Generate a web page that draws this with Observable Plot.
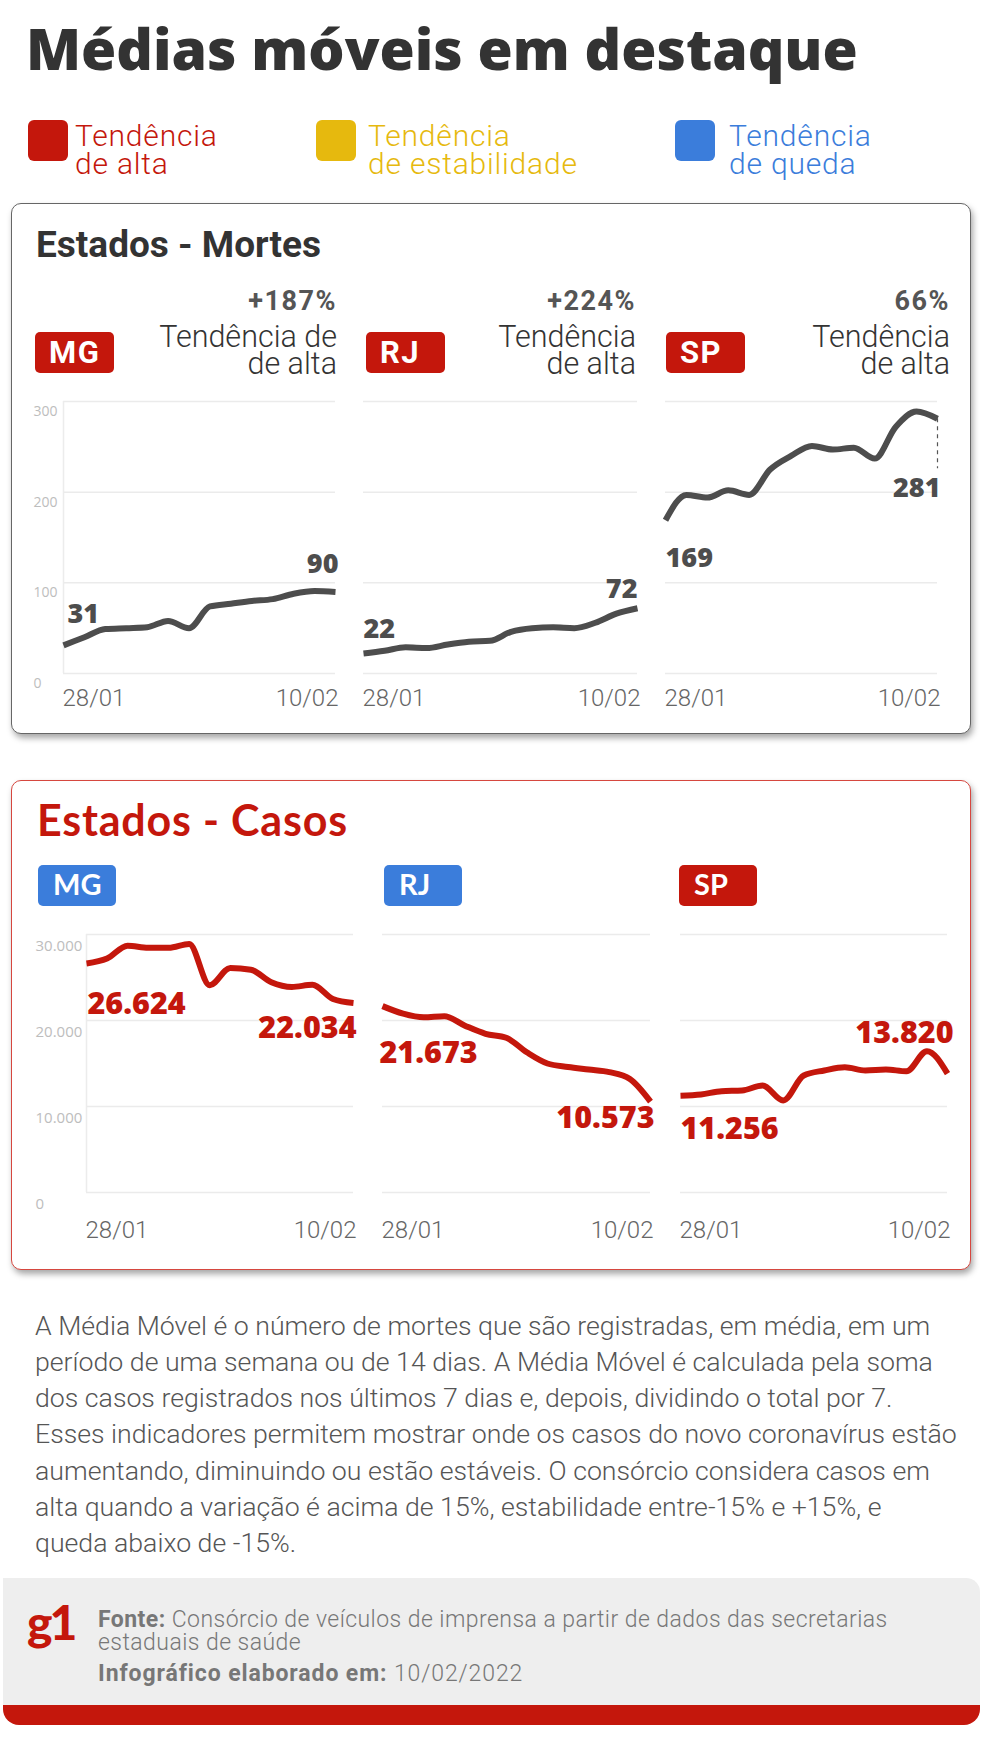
<!DOCTYPE html>
<html><head><meta charset="utf-8">
<script src="https://cdn.jsdelivr.net/npm/d3@7"></script>
<script src="https://cdn.jsdelivr.net/npm/@observablehq/plot@0.6"></script>
<style>
body{margin:0;background:#fff;}
#page{position:relative;width:984px;height:1737px;overflow:hidden;background:#fff;}
.abs{position:absolute;white-space:nowrap;}
.box{position:absolute;background:#fff;box-sizing:border-box;}
.sq{position:absolute;border-radius:6px;}
.badge{position:absolute;border-radius:5px;box-sizing:border-box;}
svg.pl{position:absolute;left:0;overflow:visible;}
</style></head>
<body><div id="page"></div>
<script>
// ---------- DATA ----------
const dias = ["28/01","29/01","30/01","31/01","01/02","02/02","03/02","04/02","05/02","06/02","07/02","08/02","09/02","10/02"];
const mortesMG = [31, 40, 49, 50, 51, 58, 50, 74, 77, 80, 82, 88, 91, 90];
const mortesRJ = [22, 25, 29, 28, 32, 35, 36, 46, 50, 51, 50, 56, 66, 72];
const mortesSP = [169, 197, 194, 202, 197, 225, 240, 251, 247, 249, 237, 272, 289, 281];
const casosMG = [26624, 27200, 28700, 28450, 28450, 28900, 24100, 26100, 25900, 24450, 23900, 24150, 22500, 22034];
const casosRJ = [21673, 20800, 20380, 20500, 19400, 18450, 18000, 16300, 15000, 14600, 14300, 14000, 13200, 10573];
const casosSP = [11256, 11400, 11780, 11860, 12440, 10700, 13600, 14190, 14570, 14190, 14300, 14100, 16430, 13820];
const estados = ["MG", "RJ", "SP"];
const variacaoMortes = ["+187%", "+224%", "66%"];
const tendenciaMortes = [["Tendência de", "de alta"], ["Tendência", "de alta"], ["Tendência", "de alta"]];
const tendenciaCasos = ["queda", "queda", "alta"];
const ticksMortes = [0, 100, 200, 300];
const ticksCasos = [0, 10000, 20000, 30000];
const legenda = [["alta", "Tendência", "de alta"], ["estabilidade", "Tendência", "de estabilidade"], ["queda", "Tendência", "de queda"]];

// ---------- STYLE ----------
const COR = {alta: "#c4170c", estabilidade: "#e6b90e", queda: "#3b7ddb"};
const CINZA = "#4d4d4d";
const W = 984;
const page = document.getElementById("page");
const METRICS = {Roboto: [0.928, 0.244], Lato: [0.987, 0.213], "Open Sans": [1.069, 0.293]};
const loc = d3.formatLocale({decimal: ",", thousands: ".", grouping: [3], currency: ["R$", ""]});
const fmt = loc.format(",d");
const parse = d3.utcParse("%d/%m/%Y");
const datas = dias.map(d => parse(d + "/2022"));

function txt(lines, o) {
  const el = document.createElement("div");
  el.className = "abs";
  const [A, D] = METRICS[o.font];
  const F = o.size, L = o.lh || Math.round(F * 1.2);
  el.style.top = (o.y - ((L - (A + D) * F) / 2 + A * F)) + "px";
  if (o.align === "right") { el.style.right = (W - o.x) + "px"; el.style.textAlign = "right"; }
  else el.style.left = o.x + "px";
  el.style.font = `${o.weight || 400} ${F}px/${L}px "${o.font}"`;
  el.style.color = o.color;
  if (o.ls != null) el.style.letterSpacing = o.ls + "px";
  el.innerHTML = lines.join("<br>");
  page.appendChild(el);
  return el;
}
function div(cls, css) {
  const el = document.createElement("div");
  el.className = cls;
  Object.assign(el.style, css);
  page.appendChild(el);
  return el;
}

// ---------- HEADER ----------
txt(["Médias móveis em destaque"], {x: 26, y: 70, font: "Open Sans", size: 57, weight: 800, color: "#333", ls: 0});
const legX = [28, 316, 675];
const legTx = [75, 368, 729];
legenda.forEach(([k, a, b], i) => {
  div("sq", {left: legX[i] + "px", top: "120px", width: "40px", height: "41px", background: COR[k]});
  txt([a, b], {x: legTx[i], y: 146, font: "Roboto", size: 30, weight: 300, color: COR[k], lh: 28, ls: 0.8});
});

// ---------- BOXES ----------
div("box", {left: "11px", top: "203px", width: "960px", height: "531px", border: "1.5px solid #666", borderRadius: "10px", boxShadow: "2px 4px 6px rgba(0,0,0,0.35)"});
div("box", {left: "11px", top: "780px", width: "960px", height: "490px", border: "1.5px solid #d6473f", borderRadius: "10px", boxShadow: "2px 4px 6px rgba(0,0,0,0.35)"});

txt(["Estados - Mortes"], {x: 36, y: 258, font: "Roboto", size: 37, weight: 700, color: "#333", ls: 0});
txt(["Estados - Casos"], {x: 37, y: 837, font: "Lato", size: 43, weight: 700, color: COR.alta, ls: 0.8});

// ---------- PANELS ----------
function panel(o) {
  const data = o.values.map((v, i) => ({date: datas[i], v}));
  const first = data[0], last = data[data.length - 1];
  const marks = [
    Plot.gridY(o.ticks, {stroke: "#ebebeb", strokeOpacity: 1, strokeWidth: 1.5}),
    o.showY ? Plot.ruleX([first.date], {stroke: "#ececec", strokeWidth: 1.5}) : null,
    o.showY ? Plot.axisY(o.ticks, {tickSize: 0, tickPadding: 0, textAnchor: "start", dx: o.yLabelX - o.x0, dy: o.yDy, fill: "#bdbdbd", fontSize: o.yFont, fontFamily: "Open Sans", tickFormat: o.tickFormat, label: null}) : null,
    o.leader ? Plot.ruleX([last], {x: "date", y1: "v", y2: "v", insetBottom: -o.leader, stroke: "#555", strokeWidth: 1.2, strokeDasharray: "4,4"}) : null,
    Plot.line(data, {x: "date", y: "v", stroke: o.color, strokeWidth: 6, curve: "monotone-x", strokeLinejoin: "round", strokeLinecap: "butt"}),
    Plot.text([first], {x: "date", y: "v", text: d => fmt(d.v), textAnchor: "start", dx: o.startD[0], dy: o.startD[1], fill: o.labelColor, fontSize: o.labelSize, fontWeight: 800, fontFamily: "Open Sans"}),
    Plot.text([last], {x: "date", y: "v", text: d => fmt(d.v), textAnchor: "end", dx: o.endD[0], dy: o.endD[1], fill: o.labelColor, fontSize: o.labelSize, fontWeight: 800, fontFamily: "Open Sans"}),
    Plot.text([first], {x: "date", frameAnchor: "bottom", text: d => d3.utcFormat("%d/%m")(d.date), textAnchor: "start", dx: -1, dy: o.xDy, fill: "#666", fontSize: 24, fontWeight: 300, fontFamily: "Roboto"}),
    Plot.text([last], {x: "date", frameAnchor: "bottom", text: d => d3.utcFormat("%d/%m")(d.date), textAnchor: "end", dx: 3, dy: o.xDy, fill: "#666", fontSize: 24, fontWeight: 300, fontFamily: "Roboto"})
  ];
  const svg = Plot.plot({
    width: W, height: o.height,
    marginLeft: o.x0, marginRight: W - o.x1, marginTop: o.mt, marginBottom: o.mb,
    style: {background: "transparent", overflow: "visible"},
    x: {type: "utc", domain: [first.date, last.date], axis: null},
    y: {domain: [o.ticks[0], o.ticks[o.ticks.length - 1]], axis: null},
    marks
  });
  svg.classList.add("pl");
  svg.style.top = o.top + "px";
  svg.style.position = "absolute";
  svg.style.left = "0px";
  page.appendChild(svg);
}

// Mortes: 0 at y=673, 300 at y=401
const mortes = [mortesMG, mortesRJ, mortesSP];
const mX = [[63, 335], [363, 637], [665, 937]];
const mStart = [[4, -31.5], [0, -24.5], [0, 38.5]];
const mEnd = [[3, -28], [0, -18.5], [3, 70]];
mortes.forEach((vals, i) => {
  panel({values: vals, x0: mX[i][0], x1: mX[i][1], top: 380, height: 340, mt: 21, mb: 47,
    ticks: ticksMortes, showY: i === 0, yLabelX: 33, yDy: 10, yFont: 14, tickFormat: d => fmt(d),
    color: CINZA, labelColor: CINZA, labelSize: 27, startD: mStart[i], endD: mEnd[i], xDy: 32,
    leader: i === 2 ? 50 : 0});
});

// Casos: 0 at y=1192, 30000 at y=934
const casos = [casosMG, casosRJ, casosSP];
const cX = [[86, 353], [382, 650], [680, 947]];
const cStart = [[1, 40.5], [-3, 47], [0, 33.5]];
const cEnd = [[3, 25], [4, 16.5], [6, -40.5]];
casos.forEach((vals, i) => {
  panel({values: vals, x0: cX[i][0], x1: cX[i][1], top: 915, height: 340, mt: 19, mb: 63,
    ticks: ticksCasos, showY: i === 0, yLabelX: 35, yDy: 12, yFont: 15, tickFormat: d => fmt(d),
    color: COR.alta, labelColor: COR.alta, labelSize: 30.5, startD: cStart[i], endD: cEnd[i], xDy: 45,
    leader: 0});
});

// ---------- Badges and trend texts ----------
const mBadgeX = [35, 366, 666];
const mPctX = [337, 636, 950];
estados.forEach((s, i) => {
  div("badge", {left: mBadgeX[i] + "px", top: "332px", width: "79px", height: "41px", background: COR.alta});
  txt([s], {x: mBadgeX[i] + 14, y: 363, font: "Roboto", size: 31, weight: 700, color: "#fff", ls: 1.5});
  txt([variacaoMortes[i]], {x: mPctX[i], y: 310, font: "Roboto", size: 27, weight: 700, color: "#555", align: "right", ls: 1.5});
  txt(tendenciaMortes[i], {x: mPctX[i], y: 347, font: "Roboto", size: 30.5, weight: 300, color: "#333", align: "right", lh: 27});
});
const cBadgeX = [38, 384, 679];
estados.forEach((s, i) => {
  div("badge", {left: cBadgeX[i] + "px", top: "865px", width: "78px", height: "41px", background: COR[tendenciaCasos[i]]});
  txt([s], {x: cBadgeX[i] + 15, y: 895, font: "Lato", size: 29, weight: 700, color: "#fff"});
});

// ---------- Body text ----------
txt([
  "A Média Móvel é o número de mortes que são registradas, em média, em um",
  "período de uma semana ou de 14 dias. A Média Móvel é calculada pela soma",
  "dos casos registrados nos últimos 7 dias e, depois, dividindo o total por 7.",
  "Esses indicadores permitem mostrar onde os casos do novo coronavírus estão",
  "aumentando, diminuindo ou estão estáveis. O consórcio considera casos em",
  "alta quando a variação é acima de 15%, estabilidade entre-15% e +15%, e",
  "queda abaixo de -15%."
], {x: 35, y: 1335, font: "Roboto", size: 26.7, weight: 300, color: "#555", lh: 36.2});

// ---------- Footer ----------
div("box", {left: "3px", top: "1578px", width: "977px", height: "147px", background: "#eeeeee", borderBottom: "20px solid #c4170c", borderRadius: "0 14px 16px 16px"});
txt(["g1"], {x: 27, y: 1641, font: "Lato", size: 48, weight: 900, color: COR.alta, ls: -3});
txt(["<b style='font-weight:700'>Fonte:</b> Consórcio de veículos de imprensa a partir de dados das secretarias", "estaduais de saúde"],
  {x: 98, y: 1627, font: "Roboto", size: 23, weight: 300, color: "#777", lh: 23, ls: 0.45});
txt(["<b style='font-weight:700'>Infográfico elaborado em:</b> 10/02/2022"], {x: 98, y: 1682, font: "Roboto", size: 23, weight: 300, color: "#777", ls: 0.9});
</script></body></html>
